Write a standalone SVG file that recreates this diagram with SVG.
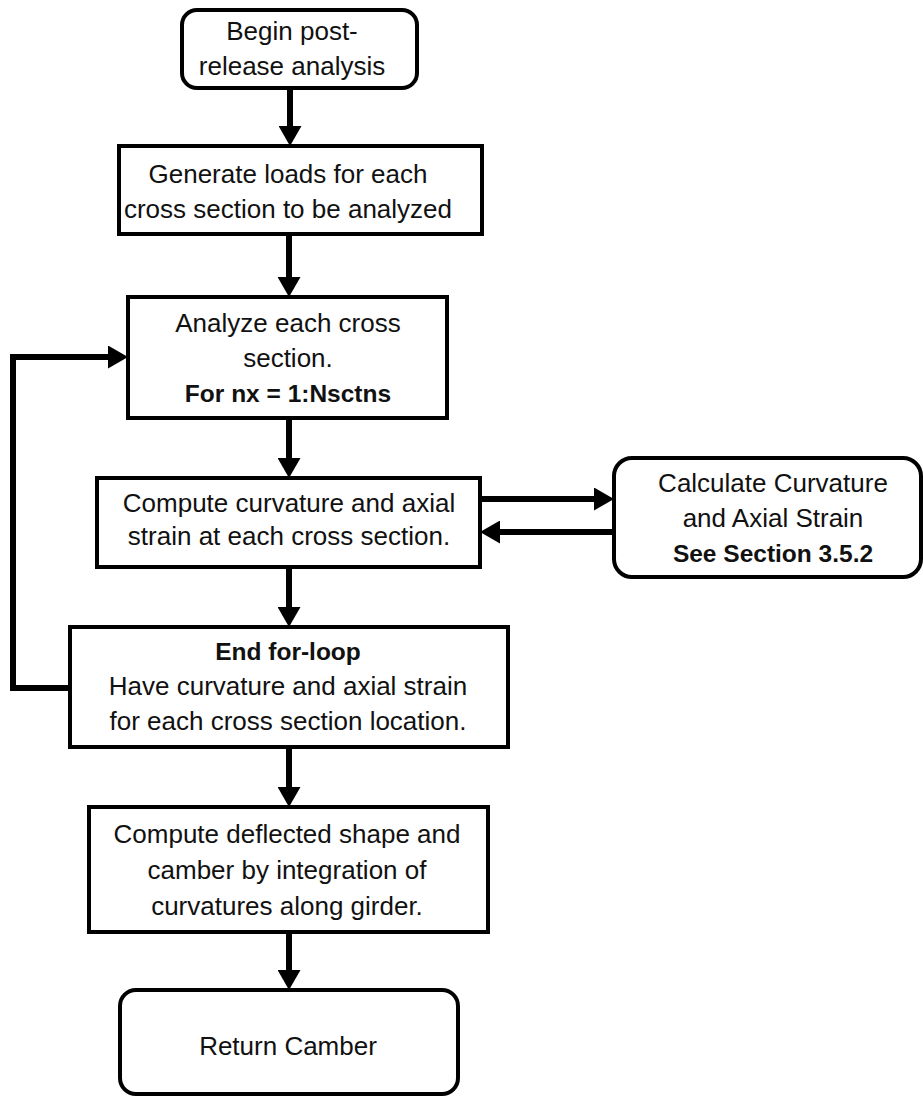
<svg xmlns="http://www.w3.org/2000/svg" width="923" height="1099" viewBox="0 0 923 1099">
<style>
.box{fill:#fff;stroke:#000;stroke-width:4}
.t{font-family:"Liberation Sans",Arial,sans-serif;font-size:26px;fill:#111;text-anchor:middle}
.b{font-weight:bold;font-size:24.5px}
.c{fill:none;stroke:#000;stroke-width:6;marker-end:url(#ah)}
</style>
<defs>
<marker id="ah" viewBox="0 0 20 23" markerWidth="20" markerHeight="23" refX="10" refY="11.5" orient="auto" markerUnits="userSpaceOnUse">
<path d="M0,0 L20,11.5 L0,23 z" fill="#000"/>
</marker>
</defs>
<rect width="923" height="1099" fill="#fff"/>
<g id="connectors">
<line class="c" x1="290" y1="88" x2="290" y2="136"/>
<line class="c" x1="289" y1="234" x2="289" y2="287"/>
<line class="c" x1="289" y1="418" x2="289" y2="468"/>
<line class="c" x1="289" y1="567" x2="289" y2="617"/>
<line class="c" x1="289" y1="747" x2="289" y2="797"/>
<line class="c" x1="289" y1="932" x2="289" y2="980"/>
<line class="c" x1="480" y1="499" x2="604" y2="499"/>
<line class="c" x1="614" y1="532" x2="490" y2="532"/>
<polyline class="c" points="70,688 13,688 13,357 118,357"/>
</g>
<g id="n1">
<rect class="box" x="182" y="10" width="235" height="78" rx="15"/>
<text class="t" x="292" y="40">Begin post-</text>
<text class="t" x="292" y="75">release analysis</text>
</g>
<g id="n2">
<rect class="box" x="119" y="146" width="363" height="88"/>
<text class="t" x="288" y="183">Generate loads for each</text>
<text class="t" x="288" y="218">cross section to be analyzed</text>
</g>
<g id="n3">
<rect class="box" x="128" y="297" width="319" height="121"/>
<text class="t" x="288" y="332">Analyze each cross</text>
<text class="t" x="288" y="367">section.</text>
<text class="t b" x="288" y="402">For nx = 1:Nsctns</text>
</g>
<g id="n4">
<rect class="box" x="97" y="478" width="383" height="89"/>
<text class="t" x="289" y="512">Compute curvature and axial</text>
<text class="t" x="289" y="545">strain at each cross section.</text>
</g>
<g id="n5">
<rect class="box" x="70" y="627" width="438" height="120"/>
<text class="t b" x="288" y="660">End for-loop</text>
<text class="t" x="288" y="695">Have curvature and axial strain</text>
<text class="t" x="288" y="730">for each cross section location.</text>
</g>
<g id="n6">
<rect class="box" x="89" y="807" width="399" height="125"/>
<text class="t" x="287" y="843">Compute deflected shape and</text>
<text class="t" x="287" y="879">camber by integration of</text>
<text class="t" x="287" y="915">curvatures along girder.</text>
</g>
<g id="n7">
<rect class="box" x="120" y="990" width="338" height="104" rx="16"/>
<text class="t" x="288" y="1055">Return Camber</text>
</g>
<g id="n8">
<rect class="box" x="614" y="458" width="307" height="119" rx="18"/>
<text class="t" x="773" y="492">Calculate Curvature</text>
<text class="t" x="773" y="527">and Axial Strain</text>
<text class="t b" x="773" y="562">See Section 3.5.2</text>
</g>
</svg>
